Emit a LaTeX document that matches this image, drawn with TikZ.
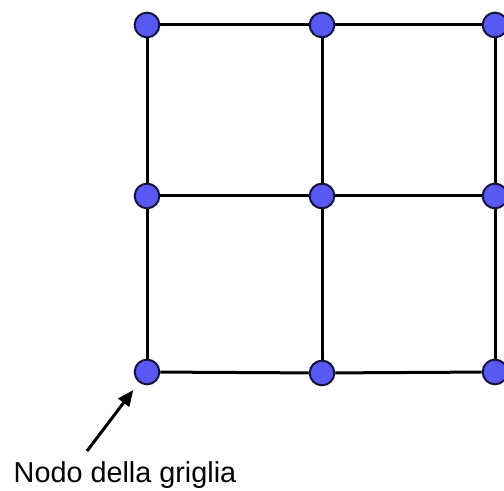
\documentclass[tikz,border=0pt]{standalone}
\usepackage{fontspec}
\setmainfont{Liberation Sans}
\usetikzlibrary{arrows.meta,positioning}
\definecolor{gridblue}{RGB}{88,88,242}
\definecolor{gridedge}{RGB}{18,18,60}

\begin{document}
\begin{tikzpicture}[
    x=0.75pt, y=0.75pt,
    gnode/.style={circle, draw=gridedge, fill=gridblue, line width=1.5pt, minimum size=18.5pt, inner sep=0pt},
    link/.style={line width=2.25pt},
    arrow/.style={-{Triangle[length=12pt, width=10pt]}, line width=2.25pt, shorten >=7pt},
    lbl/.style={font=\fontsize{21.6}{25}\selectfont, inner sep=0pt, anchor=base}
]
\useasboundingbox (0,0) rectangle (504,491);

\node[gnode] (n11) at (147,466) {};
\node[gnode] (n12) at (322,466) {};
\node[gnode] (n13) at (495,466) {};
\node[gnode] (n21) at (147,295) {};
\node[gnode] (n22) at (322,295) {};
\node[gnode] (n23) at (495,295) {};
\node[gnode] (n31) at (147,119) {};
\node[gnode] (n32) at (322,118) {};
\node[gnode] (n33) at (495,119) {};

\draw[link] (n11) -- (n12);
\draw[link] (n12) -- (n13);
\draw[link] (n21) -- (n22);
\draw[link] (n22) -- (n23);
\draw[link] (n31) -- (n32);
\draw[link] (n32) -- (n33);
\draw[link] (n11) -- (n21);
\draw[link] (n21) -- (n31);
\draw[link] (n12) -- (n22);
\draw[link] (n22) -- (n32);
\draw[link] (n13) -- (n23);
\draw[link] (n23) -- (n33);

\node[lbl] (label) at (125,8) {Nodo della griglia};
\coordinate (tail) at (87,40);
\draw[arrow] (tail) -- (n31);
\end{tikzpicture}
\end{document}
